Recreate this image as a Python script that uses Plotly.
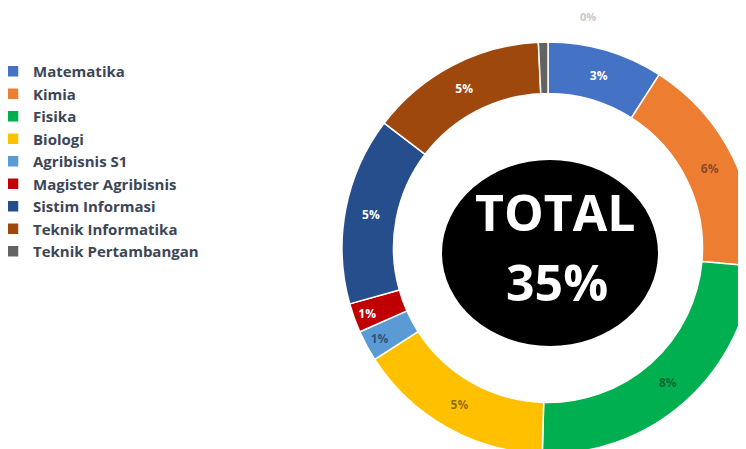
import plotly.graph_objects as go

categories = ["Matematika", "Kimia", "Fisika", "Biologi", "Agribisnis S1",
              "Magister Agribisnis", "Sistim Informasi", "Teknik Informatika",
              "Teknik Pertambangan"]
values = [3.17, 6.05, 8.4, 5.4, 0.85, 0.8, 5.15, 4.85, 0.26]
colors = ["#4472C4", "#ED7D31", "#00B050", "#FFC000", "#5B9BD5",
          "#C00000", "#264E8C", "#9E480E", "#636363"]
label_colors = ["white", "rgba(60,40,30,0.6)", "rgba(20,50,30,0.6)",
                "rgba(70,50,10,0.6)", "rgba(30,50,80,0.7)", "white",
                "white", "white", "white"]
total_text = ["TOTAL", "35%"]

W, H = 746, 449
R = 206
cx, cy = W - R, 240  # pie centre in figure pixels (from left / from top)


def px(x):
    return x / W


def py(y):
    return 1 - y / H


fig = go.Figure()
fig.add_trace(go.Pie(
    labels=categories,
    values=values,
    sort=False,
    direction="clockwise",
    rotation=0,
    hole=0.75,
    marker=dict(colors=colors, line=dict(color="white", width=1.5)),
    texttemplate="%{value:.0f}%",
    textposition=["inside"] * 8 + ["none"],
    insidetextorientation="horizontal",
    textfont=dict(family="Open Sans", size=12, color=label_colors, weight=700),
    domain=dict(x=[(cx - R) / W, 1.0], y=[(H - cy - R) / H, (H - cy + R) / H]),
    showlegend=True,
    hoverinfo="label+value",
))

# black centre disc
bx, by, brx, bry = 542, 245, 108, 93
fig.add_shape(type="circle", xref="paper", yref="paper",
              x0=px(bx - brx), x1=px(bx + brx),
              y0=py(by + bry), y1=py(by - bry),
              fillcolor="black", line=dict(color="black", width=0), layer="above")

big_font = dict(family="Open Sans", size=50, color="white", weight=700)
fig.add_annotation(x=px(547), y=py(204), xref="paper", yref="paper",
                   xanchor="center", yanchor="middle",
                   text=total_text[0], showarrow=False, font=big_font)
fig.add_annotation(x=px(549), y=py(274), xref="paper", yref="paper",
                   xanchor="center", yanchor="middle",
                   text=total_text[1], showarrow=False, font=big_font)

# outside label for the tiny slice
fig.add_annotation(x=px(580), y=py(8), xref="paper", yref="paper",
                   xanchor="center", yanchor="middle",
                   text=f"{values[-1]:.0f}%", showarrow=False,
                   font=dict(family="Open Sans", size=11, color="#c8c8c8", weight=700))

fig.update_layout(
    width=W, height=H,
    margin=dict(l=0, r=0, t=0, b=0),
    paper_bgcolor="white",
    plot_bgcolor="white",
    legend=dict(x=0, y=py(47), xanchor="left", yanchor="top",
                font=dict(family="Open Sans", size=15, color="#3c4656", weight=700),
                bgcolor="rgba(0,0,0,0)", itemwidth=30, indentation=-15),
)

fig.write_html("out.html")
